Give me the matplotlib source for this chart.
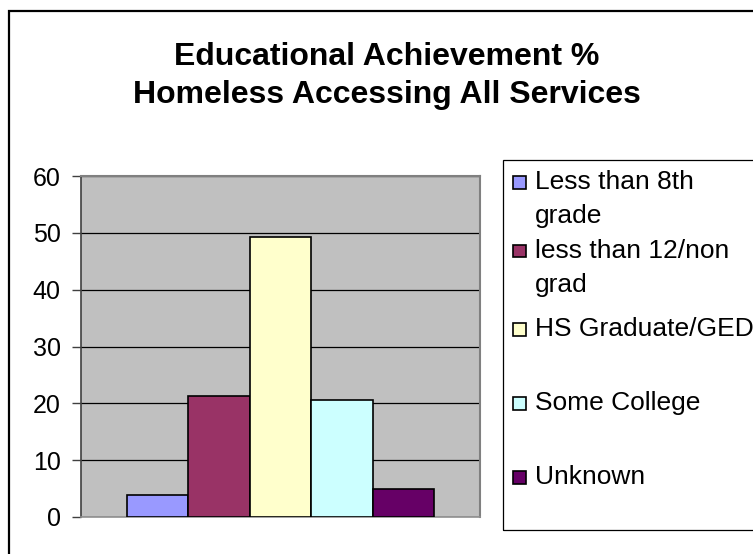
import textwrap
import matplotlib
matplotlib.use("Agg")
import matplotlib.pyplot as plt
from matplotlib.patches import Rectangle

plt.rcParams['font.family'] = ['Liberation Sans', 'DejaVu Sans']

# data
categories = ["Less than 8th grade", "less than 12/non grad", "HS Graduate/GED",
              "Some College", "Unknown"]
percent = [3.8, 21.3, 49.2, 20.6, 5.0]
colors = ["#9999FF", "#993366", "#FFFFCC", "#CCFFFF", "#660066"]
yticks = [0, 10, 20, 30, 40, 50, 60]
title_lines = ["Educational Achievement %", "Homeless Accessing All Services"]

W, H = 753, 554
fig = plt.figure(figsize=(W / 100, H / 100), dpi=100)


def fx(px):
    return px / W


def fy(py):
    return 1 - py / H


# outer chart border (runs off the right/bottom edge)
fig.patches.append(Rectangle((fx(8.5), fy(600)), fx(800), fy(11) - fy(600),
                             transform=fig.transFigure, fill=False,
                             edgecolor='black', linewidth=1.6))

# plot area
ax = fig.add_axes([fx(81), fy(517), fx(480) - fx(81), fy(176) - fy(517)])
ax.set_facecolor('#C0C0C0')
ax.set_xlim(-0.5, 0.5)
ax.set_ylim(0, 60)

# single category group, gap width 150%
n = len(categories)
w = 1 / (n + 1.5)
for i, (cat, val, col) in enumerate(zip(categories, percent, colors)):
    ax.bar((i - (n - 1) / 2) * w, val, width=w, color=col, edgecolor='black',
           linewidth=1.2, zorder=3)

ax.set_yticks(yticks)
ax.set_xticks([])
ax.yaxis.grid(True, color='black', linewidth=0.9, zorder=1)
ax.set_axisbelow(True)
ax.tick_params(axis='y', direction='out', length=6.5, width=1, color='#404040',
               pad=8, labelsize=18)
for side in ['top', 'right']:
    ax.spines[side].set_color('#808080')
    ax.spines[side].set_linewidth(1.5)
ax.spines['left'].set_color('#404040')
ax.spines['left'].set_linewidth(1.2)
ax.spines['bottom'].set_color('#909090')
ax.spines['bottom'].set_linewidth(1.2)

# title, one line at a time
for k, line in enumerate(title_lines):
    fig.text(fx(387), fy(65 + 38 * k), line, ha='center', va='baseline',
             fontsize=23, fontweight='bold')

# legend box (also runs off the right edge)
fig.patches.append(Rectangle((fx(503.5), fy(530)), fx(400), fy(160) - fy(530),
                             transform=fig.transFigure, fill=False,
                             edgecolor='black', linewidth=0.9))
legend_rows = [182, 251, 329, 403, 477]
for cat, col, y in zip(categories, colors, legend_rows):
    fig.patches.append(Rectangle((fx(513), fy(y + 6.5)), fx(13), fy(y - 6.5) - fy(y + 6.5),
                                 transform=fig.transFigure, facecolor=col,
                                 edgecolor='black', linewidth=1.2))
    for k, line in enumerate(textwrap.fill(cat, 16).split('\n')):
        fig.text(fx(535), fy(y + 34 * k), line, ha='left', va='center', fontsize=19)

fig.savefig("out.png", dpi=100)
